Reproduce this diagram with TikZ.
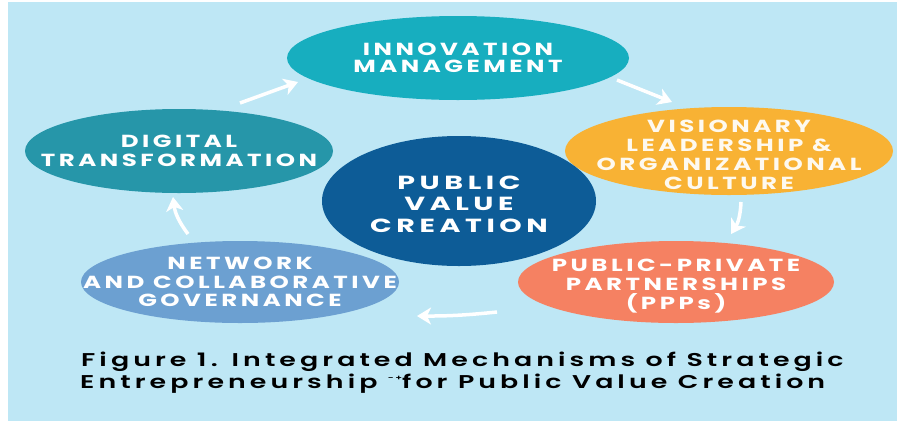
\documentclass[tikz,border=0pt]{standalone}
\usepackage{fontspec}
\setmainfont{Poppins}
\newfontfamily\lblfont{Poppins}[LetterSpace=20,FakeStretch=1.4]
\newfontfamily\pvcfont{Poppins}[LetterSpace=24,FakeStretch=1.5]
\newfontfamily\capfont{Poppins SemiBold}[LetterSpace=22,FakeStretch=1.45]
\usetikzlibrary{shapes.geometric,arrows.meta}
\definecolor{bgblue}{HTML}{BEE7F5}
\definecolor{innov}{HTML}{17AEBF}
\definecolor{digital}{HTML}{2696A9}
\definecolor{vision}{HTML}{F8B234}
\definecolor{pvc}{HTML}{0D5C97}
\definecolor{network}{HTML}{6CA0D1}
\definecolor{ppp}{HTML}{F58162}
\begin{document}
\begin{tikzpicture}[x=1pt,y=-1pt,
  blob/.style={ellipse, draw=none, inner sep=0pt},
  lbl/.style={text=white, align=center, font=\lblfont\bfseries\fontsize{17.5}{19}\selectfont},
  captext/.style={anchor=base west, inner sep=0pt, text=black, font=\capfont\fontsize{18.5}{22}\selectfont},
  flow/.style={draw=white, line width=3.5pt, -{Stealth[length=14pt,width=17pt,inset=4pt]}}
]
\useasboundingbox (0,0) rectangle (897,421);
\fill[white] (0,0) rectangle (897,421);
\fill[bgblue] (8,2) rectangle (897,421);

% mechanism ellipses
\node[blob, fill=innov,   minimum width=342pt, minimum height=84pt] (im)  at (458,58)  {};
\node[blob, fill=digital, minimum width=308pt, minimum height=84pt] (dt)  at (179,151) {};
\node[blob, fill=vision,  minimum width=328pt, minimum height=88pt] (vl)  at (729,151) {};
\node[blob, fill=network, minimum width=318pt, minimum height=82pt] (ncg) at (240,282) {};
\node[blob, fill=ppp,     minimum width=316pt, minimum height=82pt] (pp)  at (676,282) {};
\node[blob, fill=pvc,     minimum width=274pt, minimum height=130pt] (pv) at (459,201) {};

% labels (y axis points down, so a negative yshift moves a label down)
\node[lbl, font=\lblfont\bfseries\fontsize{17.5}{17}\selectfont] (imt) at (im.center) {INNOVATION\\MANAGEMENT};
\node[lbl] (dtt) at (dt.center) {DIGITAL\\TRANSFORMATION};
\node[lbl, text=white!92!vision] (vlt) at ([yshift=-4pt]vl.center) {VISIONARY\\LEADERSHIP \&\\ORGANIZATIONAL\\CULTURE};
\node[lbl, font=\lblfont\bfseries\fontsize{17.5}{18.5}\selectfont] (ncgt) at (ncg.center) {NETWORK\\AND COLLABORATIVE\\GOVERNANCE};
\node[lbl] (ppt) at ([yshift=-4pt]pp.center) {PUBLIC-PRIVATE\\PARTNERSHIPS\\(PPPs)};
\node[lbl, font=\pvcfont\bfseries\fontsize{19}{21.5}\selectfont] (pvt) at ([yshift=-3pt]pv.center) {PUBLIC\\VALUE\\CREATION};

% flow arrows between the mechanisms
\coordinate (a1s) at (240,103); \coordinate (a1e) at (298,82);
\coordinate (a2s) at (617,80);  \coordinate (a2e) at (672,102);
\coordinate (a3s) at (741,202); \coordinate (a3e) at (731,234);
\coordinate (a4s) at (497,312); \coordinate (a4e) at (417,316);
\coordinate (a5s) at (188,234); \coordinate (a5e) at (173,197);
\draw[flow] (a1s) -- (a1e);
\draw[flow] (a2s) -- (a2e);
\draw[flow] (a3s) to[bend left=15] (a3e);
\draw[flow] (a4s) to[bend left=3] (a4e);
\draw[flow] (a5s) to[bend left=15] (a5e);

% caption
\node[captext] (cap1) at (81,366) {Figure 1. Integrated Mechanisms of Strategic};
\node[captext] (cap2) at (80,388) {Entrepreneurship \raisebox{.7ex}{\fontsize{7}{7}\selectfont -+}for Public Value Creation};
\end{tikzpicture}
\end{document}
